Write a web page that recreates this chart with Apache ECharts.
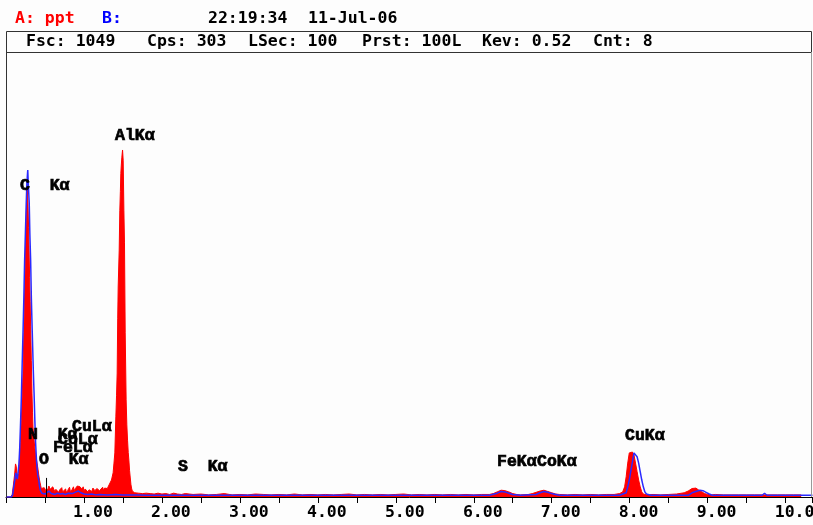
<!DOCTYPE html>
<html>
<head>
<meta charset="utf-8">
<script src="https://cdn.jsdelivr.net/npm/echarts@6/dist/echarts.min.js"></script>
<style>
html,body{margin:0;padding:0;background:#fdfdfd;}
#chart{width:813px;height:525px;}
</style>
</head>
<body>
<div id="chart"></div>
<script>
// ---- Spectrum A (red, filled) : energy (keV) and counts ----
const energyA = [0.00,0.06,0.08,0.095,0.11,0.122,0.132,0.142,0.152,0.162,0.172,0.184,0.196,0.207,0.218,0.229,0.239,0.246,0.252,0.259,0.265,0.270,0.275,0.281,0.290,0.296,0.303,0.310,0.316,0.325,0.333,0.340,0.346,0.357,0.368,0.378,0.389,0.400,0.410,0.420,0.432,0.443,0.453,0.465,0.475,0.49,0.50,0.515,0.525,0.54,0.55,0.565,0.575,0.59,0.60,0.615,0.625,0.64,0.65,0.665,0.675,0.69,0.70,0.715,0.725,0.74,0.75,0.765,0.775,0.79,0.80,0.815,0.825,0.84,0.85,0.865,0.875,0.89,0.90,0.915,0.925,0.94,0.95,0.965,0.975,0.99,1.00,1.015,1.025,1.04,1.05,1.065,1.075,1.09,1.10,1.115,1.125,1.14,1.15,1.165,1.175,1.19,1.20,1.215,1.225,1.24,1.25,1.265,1.275,1.29,1.30,1.315,1.325,1.34,1.353,1.374,1.385,1.396,1.409,1.418,1.426,1.433,1.439,1.452,1.460,1.467,1.473,1.480,1.486,1.495,1.503,1.512,1.520,1.529,1.541,1.550,1.559,1.568,1.576,1.585,1.593,1.602,1.610,1.620,1.631,1.65,1.675,1.70,1.725,1.75,1.775,1.80,1.825,1.85,1.875,1.90,1.95,2.00,2.05,2.10,2.15,2.20,2.25,2.30,2.40,2.50,2.60,2.70,2.80,2.90,3.00,3.10,3.20,3.30,3.40,3.50,3.60,3.70,3.80,3.90,4.00,4.10,4.20,4.30,4.40,4.50,4.60,4.70,4.80,4.90,5.00,5.10,5.20,5.30,5.40,5.50,5.60,5.70,5.80,5.90,6.00,6.10,6.20,6.25,6.30,6.35,6.40,6.45,6.50,6.55,6.60,6.70,6.75,6.80,6.85,6.90,6.95,7.00,7.05,7.10,7.20,7.30,7.40,7.50,7.60,7.70,7.80,7.87,7.91,7.935,7.955,7.975,7.995,8.015,8.035,8.055,8.075,8.095,8.115,8.135,8.155,8.175,8.195,8.22,8.30,8.40,8.50,8.60,8.70,8.75,8.80,8.85,8.88,8.92,8.96,9.00,9.05,9.10,9.20,9.30,9.40,9.50,9.60,9.70,9.80,9.90,10.00,10.10,10.20,10.345];
const countsA = [0,0,6,28,52,78,72,48,38,55,85,128,181,236,292,388,481,540,599,652,700,722,731,695,636,580,518,460,401,322,245,200,165,140,118,104,90,78,66,52,38,28,20,24,16,22,19,14,12,20,26,18,22,17,24,20,13,18,16,21,11,17,15,22,12,16,14,19,10,15,16,23,13,17,18,24,15,20,21,26,26,30,24,20,18,24,14,19,16,22,12,17,15,20,13,21,17,15,14,20,16,22,15,19,18,23,16,21,19,24,20,26,24,28,40,57,80,104,189,240,292,420,495,582,676,720,763,785,801,818,794,676,599,387,229,170,134,105,87,62,47,30,21,14,12,10,14,9,12,8,11,9,13,8,10,7,9,7,8,6,9,7,6,8,6,7,5,6,8,5,6,5,7,6,5,6,5,7,5,6,5,6,5,6,7,5,6,5,6,5,6,7,5,6,5,6,5,6,5,6,5,6,6,8,12,16,15,12,8,6,5,6,8,11,14,16,13,10,7,6,5,6,5,6,5,6,6,8,12,24,48,80,104,106,106,99,80,60,40,24,12,7,6,5,6,5,6,7,10,14,20,21,17,13,8,6,5,6,5,5,5,5,5,5,5,5,5,5,5];

// ---- Spectrum B (blue, line) ----
const energyB = [0.00,0.07,0.085,0.10,0.115,0.125,0.135,0.145,0.153,0.165,0.175,0.186,0.196,0.207,0.218,0.229,0.239,0.250,0.259,0.268,0.279,0.287,0.298,0.306,0.316,0.325,0.337,0.350,0.360,0.370,0.380,0.390,0.400,0.410,0.420,0.430,0.440,0.46,0.48,0.50,0.52,0.55,0.58,0.60,0.63,0.66,0.70,0.73,0.76,0.80,0.85,0.90,0.93,0.96,1.00,1.05,1.10,1.15,1.20,1.30,1.40,1.50,1.60,1.70,1.80,2.00,2.50,3.00,3.50,4.00,4.50,5.00,5.50,6.00,6.20,6.30,6.35,6.40,6.45,6.50,6.60,6.80,6.85,6.90,6.95,7.00,7.05,7.10,7.50,7.87,7.955,7.975,7.995,8.015,8.035,8.055,8.075,8.095,8.115,8.135,8.155,8.175,8.195,8.215,8.23,8.27,8.75,8.80,8.85,8.90,8.94,8.98,9.02,9.06,9.70,9.73,9.76,10.345];
const countsB = [0,0,5,25,42,57,50,42,40,75,111,170,229,310,387,470,559,630,690,740,771,735,693,620,559,470,387,300,245,180,127,90,64,48,40,25,16,9,12,7,10,14,8,11,6,9,7,8,6,9,8,12,14,10,7,6,7,5,6,5,6,5,5,5,4,4,4,4,4,4,4,4,4,4,4,9,13,12,9,6,4,6,10,13,11,8,6,4,4,4,10,24,40,62,82,104,107,95,80,60,40,24,12,7,5,4,4,10,13,16,15,11,7,4,4,9,4,4];

// ---- Kev cursor marker ----
const cursorEnergy = [0.52, 0.52];
const cursorCounts = [0, 45];

// ---- Axis ----
const fullScale = 1049;
const xMax = 10.345;
const tickStep = 0.5;

// ---- Texts ----
const headerInfo = ['Fsc: 1049', 'Cps: 303', 'LSec: 100', 'Prst: 100L', 'Kev: 0.52', 'Cnt: 8'];
const peakLabels = ['C  K\u03b1', 'AlK\u03b1', 'N  K\u03b1', 'CoL\u03b1', 'CuL\u03b1', 'FeL\u03b1', 'O  K\u03b1', 'S  K\u03b1', 'FeK\u03b1', 'CoK\u03b1', 'CuK\u03b1'];

const zip = (a, b) => a.map((v, i) => [v, b[i]]);

const monoFont = 'bold 16.5px "DejaVu Sans Mono"';
const labelFont = 'bold 16.5px "Liberation Mono"';

const headerX = [26, 147, 248, 362, 482, 593];
const peakPos = [[20,186],[115,136],[28,435],[58,440],[72,427],[53,448],[39,460],[178,467],[497,462],[537,462],[625,436]];

const graphics = [
  {type:'rect', shape:{x:6.5, y:31.5, width:805, height:21}, style:{fill:'none', stroke:'#333', lineWidth:1}, z:10},
  {type:'line', shape:{x1:6.5, y1:52, x2:6.5, y2:497}, style:{stroke:'#333', lineWidth:1}, z:10},
  {type:'line', shape:{x1:811.5, y1:52, x2:811.5, y2:497}, style:{stroke:'#999', lineWidth:1}, z:10},
  {type:'text', x:15, y:19, style:{text:'A: ppt', fill:'#ff0000', font:monoFont, verticalAlign:'middle'}, z:10},
  {type:'text', x:102, y:19, style:{text:'B:', fill:'#0000ff', font:monoFont, verticalAlign:'middle'}, z:10},
  {type:'text', x:208, y:19, style:{text:'22:19:34', fill:'#000', font:monoFont, verticalAlign:'middle'}, z:10},
  {type:'text', x:308, y:19, style:{text:'11-Jul-06', fill:'#000', font:monoFont, verticalAlign:'middle'}, z:10}
];
headerInfo.forEach((t, i) => graphics.push({type:'text', x:headerX[i], y:42, style:{text:t, fill:'#000', font:monoFont, verticalAlign:'middle'}, z:10}));
peakLabels.forEach((t, i) => graphics.push({type:'text', x:peakPos[i][0], y:peakPos[i][1], style:{text:t, fill:'#000', stroke:'#000', lineWidth:0.7, font:labelFont, verticalAlign:'middle'}, z:10}));

const chart = echarts.init(document.getElementById('chart'));
chart.setOption({
  animation: false,
  backgroundColor: '#fdfdfd',
  grid: {left: 6, right: 0.5, top: 52, bottom: 28, containLabel: false, outerBoundsMode: 'none'},
  xAxis: {
    type: 'value', min: 0, max: xMax, interval: tickStep,
    axisLine: {show: true, lineStyle: {color: '#000', width: 1}},
    axisTick: {show: true, length: 6, inside: false, lineStyle: {color: '#000', width: 1}},
    splitLine: {show: false},
    axisLabel: {
      show: true, margin: 7, color: '#000', fontFamily: 'DejaVu Sans Mono', fontWeight: 'bold', fontSize: 16.5,
      padding: [0, 0, 0, 18],
      showMinLabel: true, showMaxLabel: true, hideOverlap: false,
      formatter: v => (Math.abs(v - Math.round(v)) < 1e-6 && v >= 1 && v <= 10) ? (v >= 10 ? v.toFixed(1) : v.toFixed(2)) : ''
    }
  },
  yAxis: {type: 'value', min: 0, max: fullScale, show: false, splitLine: {show: false}},
  series: [
    {type: 'line', data: zip(energyA, countsA), showSymbol: false, symbol: 'none', lineStyle: {color: '#ff0000', width: 1},
     areaStyle: {color: '#ff0000', opacity: 1}, z: 2},
    {type: 'line', data: zip(energyB, countsB), showSymbol: false, symbol: 'none', lineStyle: {color: '#2a2aff', width: 1.5}, z: 3},
    {type: 'line', data: zip(cursorEnergy, cursorCounts), showSymbol: false, symbol: 'none', lineStyle: {color: '#000', width: 1}, z: 4}
  ],
  graphic: graphics
});
</script>
</body>
</html>
